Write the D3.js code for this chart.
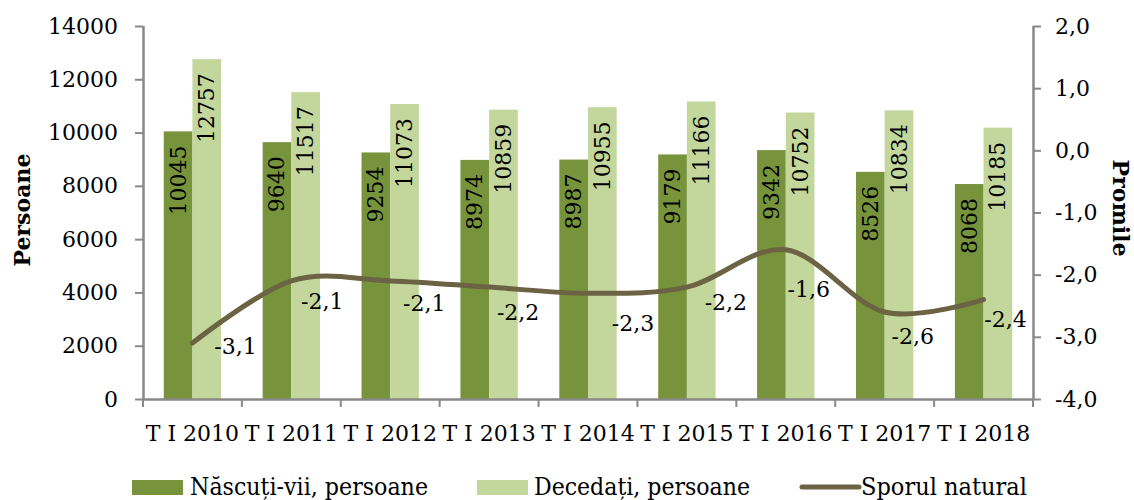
<!DOCTYPE html>
<html>
<head>
<meta charset="utf-8">
<script src="https://cdn.jsdelivr.net/npm/d3@7"></script>
<style>
  body { margin: 0; background: #fff; }
  svg text { font-family: "DejaVu Serif", serif; fill: #000; }
</style>
</head>
<body>
<svg id="chart" width="1134" height="500"></svg>
<script>
// data
var categories = ["T I 2010", "T I 2011", "T I 2012", "T I 2013", "T I 2014",
                  "T I 2015", "T I 2016", "T I 2017", "T I 2018"];
var nascuti = [10045, 9640, 9254, 8974, 8987, 9179, 9342, 8526, 8068];
var decedati = [12757, 11517, 11073, 10859, 10955, 11166, 10752, 10834, 10185];
var sporul = [-3.1, -2.1, -2.1, -2.2, -2.3, -2.2, -1.6, -2.6, -2.4];
var leftTicks = [0, 2000, 4000, 6000, 8000, 10000, 12000, 14000];
var rightTicks = [-4, -3, -2, -1, 0, 1, 2];
var seriesNames = ["Născuți-vii, persoane", "Decedați, persoane", "Sporul natural"];

// label nudges for the line labels (dx, dy from the point), as placed in the original
var nudgeX = [43, 31, 34, 29, 45, 39, 23, 28, 22];
var nudgeY = [3, 21, 23, 25, 30, 15, 40, 25, 20];

var colDark = "#77933c", colLight = "#c3d69b", colLine = "#6b6343", colAxis = "#898989";

var margin = {top: 26, right: 101, bottom: 101, left: 143};
var width = 1134 - margin.left - margin.right;
var height = 500 - margin.top - margin.bottom;

var comma = function(d){ return d3.format(".1f")(d).replace(".", ",").replace("−", "-"); };

var svg = d3.select("#chart");
var g = svg.append("g")
    .attr("transform", "translate(" + margin.left + "," + margin.top + ")");

var x0 = d3.scaleBand().domain(categories).range([0, width])
    .paddingInner(0.42).paddingOuter(0.21);
var x1 = d3.scaleBand().domain([0, 1]).range([0, x0.bandwidth()]);
var y = d3.scaleLinear().domain([0, 14000]).range([height, 0]);
var y2 = d3.scaleLinear().domain([-4, 2]).range([height, 0]);
var step = width / categories.length;
var cx = function(i){ return step * i + step / 2; };

// bars
var seriesData = [nascuti, decedati];
[colDark, colLight].forEach(function(col, s){
    g.selectAll(".bar" + s)
        .data(seriesData[s])
        .enter().append("rect")
        .attr("x", function(d, i){ return x0(categories[i]) + x1(s); })
        .attr("y", function(d){ return y(d); })
        .attr("width", x1.bandwidth())
        .attr("height", function(d){ return height - y(d); })
        .attr("fill", col);

    g.selectAll(".blab" + s)
        .data(seriesData[s])
        .enter().append("text")
        .attr("transform", function(d, i){
            var bx = x0(categories[i]) + x1(s) + x1.bandwidth() / 2;
            return "translate(" + bx + "," + (y(d) + 14) + ") rotate(-90)";
        })
        .attr("text-anchor", "end")
        .attr("dominant-baseline", "central")
        .attr("font-size", "22px")
        .text(function(d){ return d; });
});

// axes
var leftAxis = d3.axisLeft(y).tickValues(leftTicks).tickSize(8).tickPadding(17)
    .tickFormat(d3.format("d"));
var gl = g.append("g").call(leftAxis);
var rightAxis = d3.axisRight(y2).tickValues(rightTicks).tickSize(8).tickPadding(14)
    .tickFormat(comma);
var gr = g.append("g").attr("transform", "translate(" + width + ",0)").call(rightAxis);
var bottomAxis = d3.axisBottom(x0).tickSize(0).tickPadding(26);
var gb = g.append("g").attr("transform", "translate(0," + height + ")").call(bottomAxis);

[gl, gr, gb].forEach(function(a){
    a.select(".domain").attr("stroke", colAxis).attr("stroke-width", 2.5);
    a.selectAll(".tick line").attr("stroke", colAxis).attr("stroke-width", 2);
    a.selectAll(".tick text").attr("font-size", "22px").attr("font-family", "DejaVu Serif").attr("fill", "#000");
});
gl.select(".domain").attr("d", "M0.5," + height + "V0");
gr.select(".domain").attr("d", "M0.5," + height + "V0");
gb.select(".domain").attr("d", "M0,0.5H" + width);

// category boundary ticks on the x axis
g.selectAll(".xtick")
    .data(d3.range(categories.length + 1))
    .enter().append("line")
    .attr("x1", function(i){ return step * i; })
    .attr("x2", function(i){ return step * i; })
    .attr("y1", height)
    .attr("y2", height + 8)
    .attr("stroke", colAxis)
    .attr("stroke-width", 2);

// line
var line = d3.line()
    .x(function(d, i){ return cx(i); })
    .y(function(d){ return y2(d); })
    .curve(d3.curveCardinal.tension(0));

g.append("path")
    .datum(sporul)
    .attr("d", line)
    .attr("fill", "none")
    .attr("stroke", colLine)
    .attr("stroke-width", 5)
    .attr("stroke-linecap", "round");

g.selectAll(".llab")
    .data(sporul)
    .enter().append("text")
    .attr("x", function(d, i){ return cx(i) + nudgeX[i]; })
    .attr("y", function(d, i){ return y2(d) + nudgeY[i]; })
    .attr("text-anchor", "middle")
    .attr("dominant-baseline", "central")
    .attr("font-size", "22px")
    .text(comma);

// axis titles
svg.append("text")
    .attr("transform", "translate(22,210) rotate(-90)")
    .attr("text-anchor", "middle")
    .attr("dominant-baseline", "central")
    .attr("font-size", "22px")
    .attr("font-weight", "bold")
    .text("Persoane");

svg.append("text")
    .attr("transform", "translate(1121,208) rotate(90)")
    .attr("text-anchor", "middle")
    .attr("dominant-baseline", "central")
    .attr("font-size", "22px")
    .attr("font-weight", "bold")
    .text("Promile");

// legend
var legY = 487;
var legSw = [132, 477, 802];
var legTx = [190, 534, 861];
var legW = [238, 216, 166];

svg.append("rect").attr("x", legSw[0]).attr("y", legY - 7).attr("width", 51).attr("height", 15).attr("fill", colDark);
svg.append("rect").attr("x", legSw[1]).attr("y", legY - 7).attr("width", 51).attr("height", 15).attr("fill", colLight);
svg.append("line").attr("x1", legSw[2]).attr("x2", legSw[2] + 57)
    .attr("y1", legY).attr("y2", legY)
    .attr("stroke", colLine).attr("stroke-width", 5).attr("stroke-linecap", "round");

svg.selectAll(".legtext")
    .data(seriesNames)
    .enter().append("text")
    .attr("x", function(d, i){ return legTx[i]; })
    .attr("y", legY)
    .attr("dominant-baseline", "central")
    .attr("font-size", "24px")
    .attr("textLength", function(d, i){ return legW[i]; })
    .attr("lengthAdjust", "spacingAndGlyphs")
    .text(function(d){ return d; });
</script>
</body>
</html>
